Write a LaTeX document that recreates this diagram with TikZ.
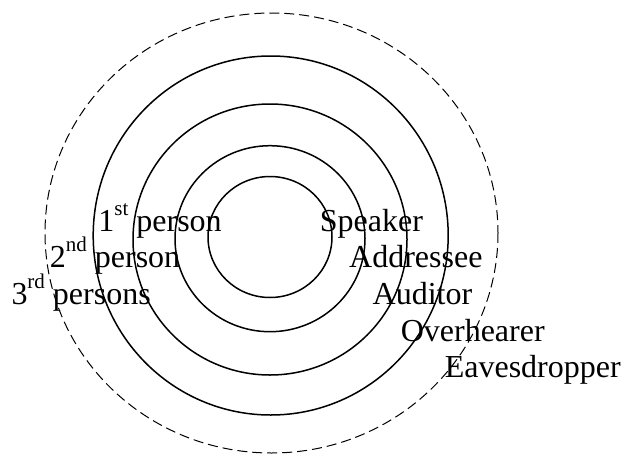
\documentclass[tikz,border=0pt]{standalone}
\usepackage{fontspec}
\setmainfont{Liberation Serif}
\usepackage{tikz}
\usetikzlibrary{positioning}
\newcommand{\ordsup}[1]{\raisebox{16pt}{\fontsize{21}{21}\selectfont #1}}
\tikzset{
  ring/.style      = {draw=black, line width=1.5pt},
  ringdash/.style  = {draw=black, line width=1pt, dash pattern=on 10pt off 5pt},
  role/.style      = {anchor=base west, inner sep=0pt, font=\fontsize{32}{36}\selectfont},
}
\begin{document}
\begin{tikzpicture}[x=1pt, y=-1pt]
\useasboundingbox (0,0) rectangle (623,455);

% ================= Kreise =================
\draw [ringdash] (271.5,233) ellipse (226.5 and 220);
\draw [ring] (270.7,235.5) ellipse (177.5 and 179.5);
\draw [ring] (270,239.5) ellipse (137 and 135.5);
\draw [ring] (270,238.7) ellipse (95 and 93);
\draw [ring] (270,237) ellipse (62 and 60.5);

% ================= Personen (links) =================
\node (first)  [role] at (98.2, 231.5)  {1\ordsup{st} person};
\node (second) [role] at (49.7, 267.5)  {2\ordsup{nd} person};
\node (third)  [role] at (11.3, 304)    {3\ordsup{rd} persons};

% ================= Rollen (rechts) =================
\node (speaker)   [role] at (319.7, 231.7) {Speaker};
\node (addressee) [role] at (349, 267.7)   {Addressee};
\node (auditor)   [role] at (372.5, 304)   {Auditor};
\node (overhear)  [role] at (400.6, 341)   {Overhearer};
\node (eaves)     [role] at (444.6, 377)   {Eavesdropper};

\end{tikzpicture}
\end{document}
